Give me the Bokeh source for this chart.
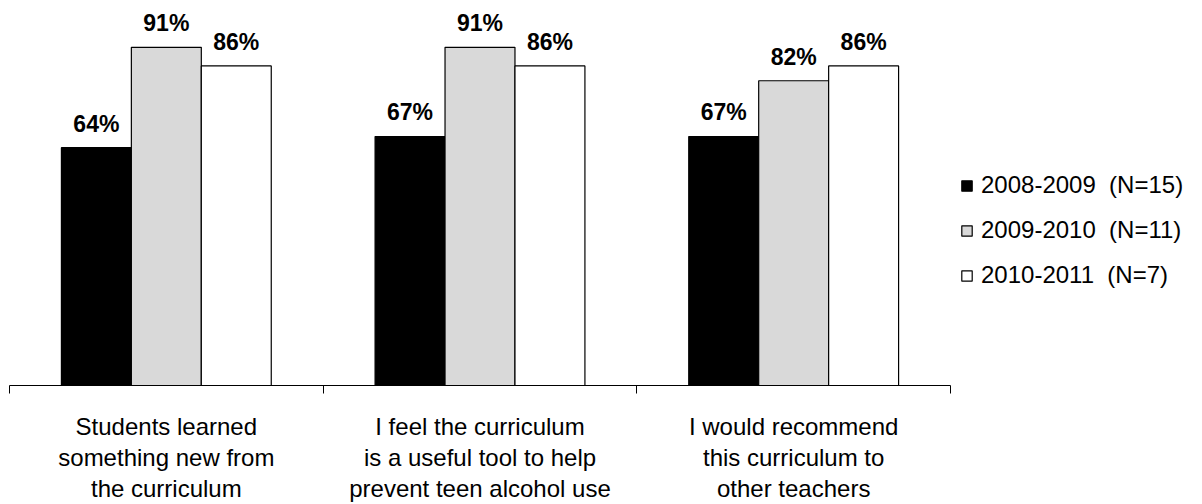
from bokeh.plotting import figure
from bokeh.models import Range1d, FixedTicker, LinearAxis, Legend, LegendItem, ColumnDataSource
from bokeh.core.properties import value
from bokeh.transform import dodge
from bokeh.embed import file_html
from bokeh.resources import INLINE

# ---- data ----
categories = [
    "Students learned\nsomething new from\nthe curriculum",
    "I feel the curriculum\nis a useful tool to help\nprevent teen alcohol use",
    "I would recommend\nthis curriculum to\nother teachers",
]
series_names = ["2008-2009  (N=15)", "2009-2010  (N=11)", "2010-2011  (N=7)"]
v_2008_2009 = [64, 67, 67]
v_2009_2010 = [91, 91, 82]
v_2010_2011 = [86, 86, 86]
series_values = [v_2008_2009, v_2009_2010, v_2010_2011]
fill_colors = ["#000000", "#d9d9d9", "#ffffff"]

# ---- layout constants ----
FONT = "Liberation Sans"
n = len(categories)
frame_left = 9
axis_px = 941.0              # pixel width of the axis span
unit = axis_px / n           # px per category
frame_w = 1202 - frame_left
BAR_W = 0.223
LABEL_PAD = 6.5              # data units above bar top

p = figure(
    width=1202, height=504,
    x_range=Range1d(-0.5, -0.5 + frame_w / unit),
    y_range=Range1d(0, 103.6),
    output_backend="svg", toolbar_location=None,
    x_axis_type=None, y_axis_type=None,
    min_border_left=frame_left, min_border_right=0,
    min_border_top=0, min_border_bottom=118,
)
p.outline_line_color = None
p.background_fill_color = "white"
p.border_fill_color = "white"

idx = list(range(n))
offsets = [-BAR_W, 0.0, BAR_W]
renderers = []
for vals, off, col in zip(series_values, offsets, fill_colors):
    src = ColumnDataSource(dict(
        x=idx,
        top=vals,
        ly=[v + LABEL_PAD for v in vals],
        txt=[f"{v}%" for v in vals],
    ))
    r = p.vbar(x=dodge("x", off, range=p.x_range), top="top", bottom=0, width=BAR_W,
               source=src, fill_color=col, line_color="black", line_width=1.2)
    renderers.append(r)
    p.text(x=dodge("x", off, range=p.x_range), y="ly", text="txt", source=src,
           text_font=value(FONT), text_font_style="bold", text_font_size="23px",
           text_align="center", text_baseline="alphabetic", text_color="black")

ticker = FixedTicker(ticks=idx, minor_ticks=[i - 0.5 for i in range(n + 1)])
ax = LinearAxis(
    ticker=ticker, bounds=(-0.5, n - 0.5),
    major_label_overrides={i: c for i, c in enumerate(categories)},
    axis_line_color="black", axis_line_width=1,
    major_tick_line_color=None, major_tick_in=0, major_tick_out=0,
    minor_tick_line_color="black", minor_tick_in=0, minor_tick_out=8,
    major_label_standoff=19,
    major_label_text_font=FONT, major_label_text_font_size="24px",
    major_label_text_line_height=1.15,
    major_label_text_color="black",
)
p.add_layout(ax, "below")

legend = Legend(
    items=[LegendItem(label=nm, renderers=[r]) for nm, r in zip(series_names, renderers)],
    location=(951, 95),
    glyph_width=13, glyph_height=13, label_standoff=8,
    label_height=30, spacing=15, padding=0, margin=0,
    border_line_color=None, background_fill_alpha=0,
    label_text_font=FONT, label_text_font_size="24px", label_text_color="black",
)
p.add_layout(legend)

open("out.html", "w").write(file_html(p, INLINE))
